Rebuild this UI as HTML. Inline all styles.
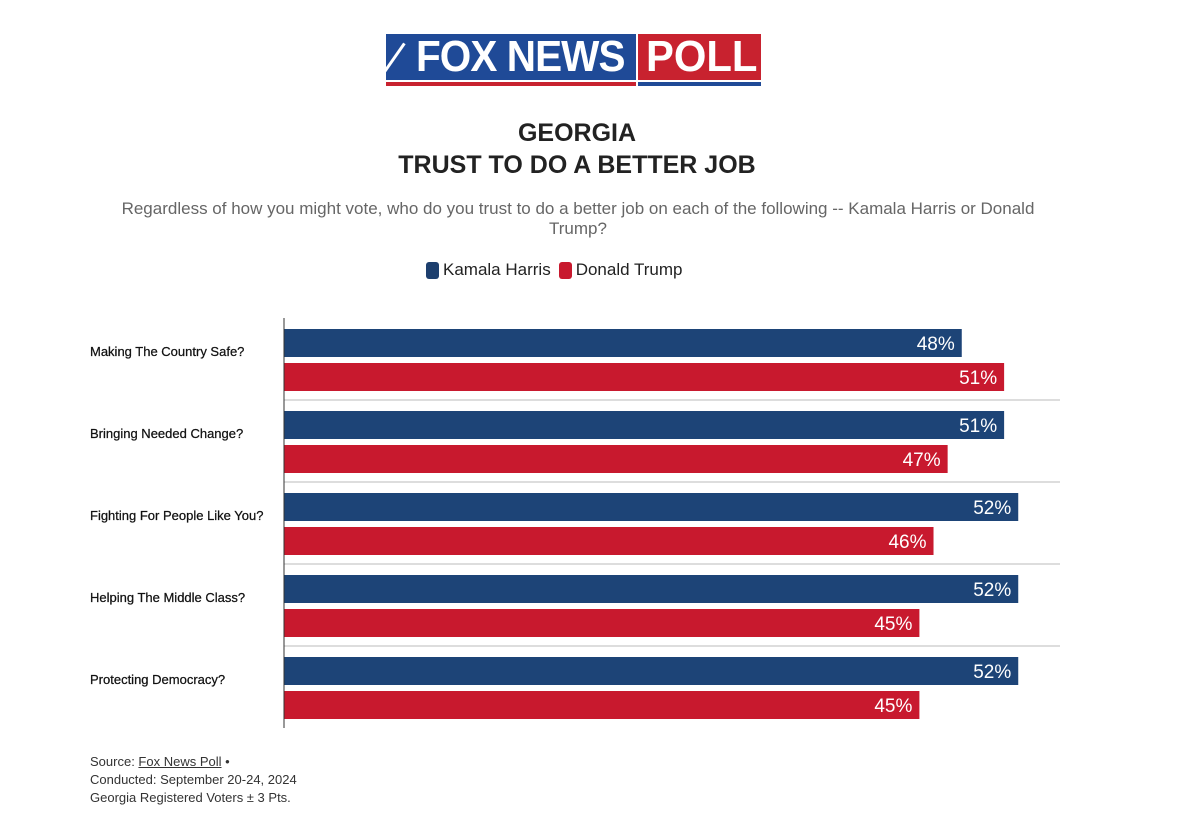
<!DOCTYPE html>
<html><head><meta charset="utf-8"><style>
body{margin:0;background:#fff;width:1194px;height:840px;position:relative;font-family:"Liberation Sans",sans-serif;overflow:hidden}
.abs{position:absolute}
</style></head><body>
<div class="abs" style="left:386px;top:34px;width:375px;height:54px">
  <div class="abs" style="left:0;top:0;width:250px;height:46px;background:#1f4a97"></div>
  <div class="abs" style="left:0;top:48px;width:250px;height:4px;background:#c8222f"></div>
  <div class="abs" style="left:252px;top:0;width:123px;height:46px;background:#c8222f"></div>
  <div class="abs" style="left:252px;top:48px;width:123px;height:4px;background:#1f4a97"></div>
  <div class="abs" style="left:30px;top:0px;color:#fff;font-weight:bold;font-size:44px;letter-spacing:-1px;line-height:46px;transform:scaleX(0.92);transform-origin:left">FOX NEWS</div>
  <div class="abs" style="left:260px;top:0px;color:#fff;font-weight:bold;font-size:44px;line-height:46px;transform:scaleX(0.95);transform-origin:left">POLL</div>
  <div class="abs" style="left:6px;top:6px;width:3px;height:38px;background:#fff;transform:rotate(35deg)"></div>
</div>
<div class="abs" style="left:0;width:1154px;top:117px;text-align:center;font-weight:bold;font-size:25px;line-height:32px;color:#222">GEORGIA<br>TRUST TO DO A BETTER JOB</div>
<div class="abs" style="left:117px;width:922px;top:199px;text-align:center;font-size:17px;line-height:20px;color:#666">Regardless of how you might vote, who do you trust to do a better job on each of the following -- Kamala Harris or Donald Trump?</div>
<div class="abs" style="left:426px;top:260px;font-size:17px;color:#222;display:flex;align-items:center">
  <span style="display:flex;align-items:center"><span style="width:13px;height:17px;background:#1d3f6e;border-radius:3px;margin-right:4px"></span>Kamala Harris</span>
  <span style="display:flex;align-items:center;margin-left:8px"><span style="width:13px;height:17px;background:#c8192e;border-radius:3px;margin-right:4px"></span>Donald Trump</span>
</div>
<svg class="abs" style="left:0;top:0" width="1194" height="840" id="chart"></svg>
<div class="abs" style="left:90px;top:753px;font-size:13px;line-height:18px;color:#333">Source: <span style="text-decoration:underline">Fox News Poll</span> •<br>Conducted: September 20-24, 2024<br>Georgia Registered Voters ± 3 Pts.</div>
<script>
const categories=["Making The Country Safe?","Bringing Needed Change?","Fighting For People Like You?","Helping The Middle Class?","Protecting Democracy?"];
const harris=[48,51,52,52,52];
const trump=[51,47,46,45,45];
const svg=document.getElementById('chart');
const NS='http://www.w3.org/2000/svg';
const x0=284,pxPer=14.12;
const xs=v=>x0+v*pxPer;
const gy=i=>329+i*82;
function mk(t,a){const e=document.createElementNS(NS,t);for(const k in a)e.setAttribute(k,a[k]);svg.appendChild(e);return e;}
categories.forEach((c,i)=>{
  const y=gy(i);
  if(i>0){const s=mk('line',{x1:x0,x2:1060,y1:y-11,y2:y-11,stroke:'#ddd','stroke-width':2});
    
    }
  const t=mk('text',{x:90,y:y+27,'font-size':13,fill:'#111','font-family':'Liberation Sans, sans-serif','stroke':'#111','stroke-width':0.25});
  t.textContent=c;
  
  
  [[harris[i],'#1d4477',y,'harris'],[trump[i],'#c8192e',y+34,'trump']].forEach(([v,col,by,n])=>{
    const r=mk('rect',{x:x0,y:by,width:xs(v)-x0,height:28,fill:col});
    
    
    const l=mk('text',{x:xs(v)-7,y:by+21,'text-anchor':'end','font-size':19,fill:'#fff','font-family':'Liberation Sans, sans-serif'});
    l.textContent=v+'%';
    
    
  });
});
const ax=mk('line',{x1:x0,x2:x0,y1:318,y2:728,stroke:'#333','stroke-width':1});


</script>
</body></html>
